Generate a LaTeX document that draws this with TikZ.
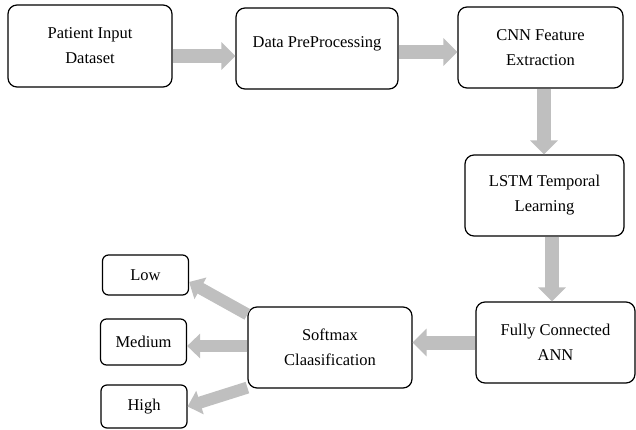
\documentclass[tikz,border=0pt]{standalone}
\usepackage{fontspec}
\setmainfont{Liberation Serif}
\usetikzlibrary{arrows.meta}
\definecolor{flowgray}{HTML}{BFBFBF}
\tikzset{
stagebox/.style={
    draw,
    rounded corners=9pt,
    line width=1.2pt,
    align=center,
    inner sep=0pt,
    font=\fontsize{16.5}{25}\selectfont
},
bigbox/.style={
    stagebox,
    minimum width=162pt,
    minimum height=81pt
},
classbox/.style={
    stagebox,
    rounded corners=6pt,
    minimum width=86pt
},
flow/.style={
    draw=flowgray,
    line width=14pt,
    -{Triangle[width=27pt,length=14pt]}
},
classflow/.style={
    flow,
    line width=12pt,
    -{Triangle[width=24pt,length=13pt]}
}}

\begin{document}
\begin{tikzpicture}[x=1pt, y=-1pt]
\useasboundingbox (0,0) rectangle (636,430);
\node[bigbox, minimum width=164pt, minimum height=82pt]    (input)    at (90,46)     {Patient Input\\Dataset};
\node[bigbox]    (prep)     at (317,48.5)  {Data PreProcessing\\[-12pt]~};
\node[bigbox, minimum width=165pt]    (cnn)      at (540.5,47.5) {CNN Feature\\Extraction};
\node[bigbox, minimum width=159pt]    (lstm)     at (544.5,195.5) {LSTM Temporal\\Learning};
\node[bigbox, minimum width=159pt]    (fc)       at (555.5,342.5) {Fully Connected\\ANN};
\node[bigbox, minimum width=164pt]    (soft)     at (330,347.5) {Softmax\\Claasification};
\node[classbox, minimum height=40pt]  (low)      at (145.5,275) {Low};
\node[classbox, minimum height=46pt]  (medium)   at (143.5,342) {Medium};
\node[classbox, minimum height=43pt]  (high)     at (144,406.5) {High};

\draw[flow]    ([yshift=-10pt]input.east) -- ([yshift=-10pt]input.east -| prep.west);
\draw[flow]    ([yshift=-3.5pt]prep.east) -- ([yshift=-3.5pt]prep.east -| cnn.west);
\draw[flow]    ([xshift=3.5pt]cnn.south)  -- ([xshift=3.5pt]cnn.south |- lstm.north);
\draw[flow]    ([xshift=7.5pt]lstm.south) -- ([xshift=7.5pt]lstm.south |- fc.north);
\draw[flow]    (fc.west)                  -- (fc.west -| soft.east);
\draw[classflow]    ([yshift=-8pt]soft.north west)  -- ([yshift=-7pt]low.east);
\draw[classflow]    ([yshift=1.5pt]soft.west)       -- ([yshift=-4pt]medium.east);
\draw[classflow]    ([yshift=1pt]soft.south west)   -- (high.east);
\end{tikzpicture}
\end{document}
